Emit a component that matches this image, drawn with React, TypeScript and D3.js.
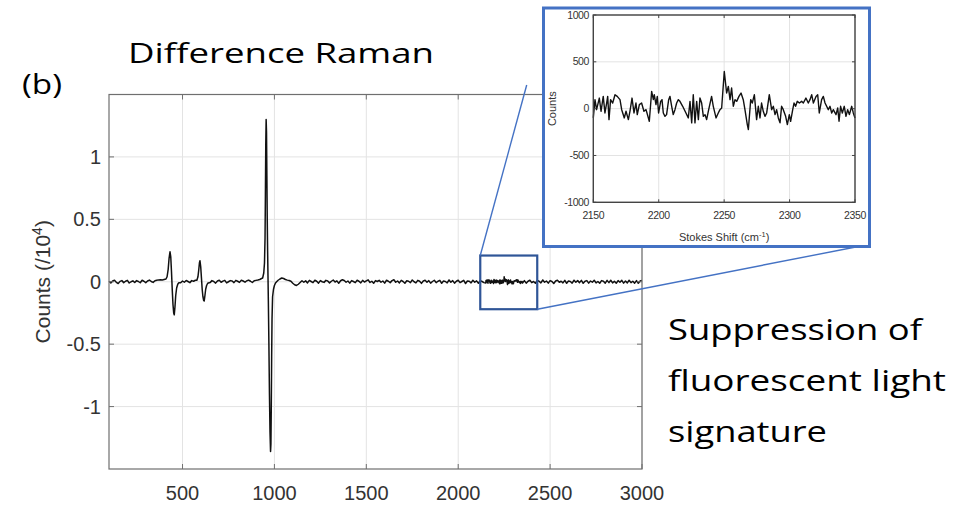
import React from 'react';
import * as d3 from 'd3';

const W = 961;
const H = 505;

// ---------- Main spectrum (Counts / 10^4 vs Stokes shift) ----------
const mainXTicks = [500, 1000, 1500, 2000, 2500, 3000];
const mainYTicks = [-1, -0.5, 0, 0.5, 1];
const mainYTickLabels = ['-1', '-0.5', '0', '0.5', '1'];

// baseline segment A: x = 100..380 step 10
const segAStart = 100;
const segA = [0.004, -0.009, 0.006, 0.012, -0.005, -0.014, 0.003, 0.009, -0.007, 0.004, 0.011, -0.01, 0.0, 0.007, -0.006, 0.009, 0.002, -0.008, 0.012, 0.004, -0.007, 0.006, 0.013, 0.002, -0.005, 0.008, 0.012, 0.015, 0.016];

const peak1: [number, number][] = [
  [390, 0.014], [400, 0.018], [410, 0.022], [416, 0.04], [422, 0.1], [427, 0.19], [432, 0.24], [436, 0.2],
  [440, 0.08], [444, -0.06], [448, -0.18], [452, -0.25], [455, -0.265], [459, -0.2], [463, -0.11],
  [468, -0.05], [474, -0.02], [480, -0.008],
];

// baseline segment B: x = 490..570 step 10
const segBStart = 490;
const segB = [-0.008, 0.006, -0.004, 0.01, 0.002, -0.007, 0.009, 0.004, 0.012];

const peak2: [number, number][] = [
  [578, 0.012], [584, 0.04], [588, 0.09], [592, 0.15], [595, 0.168], [599, 0.12], [603, 0.03], [607, -0.06],
  [611, -0.12], [615, -0.15], [618, -0.154], [622, -0.11], [626, -0.06], [631, -0.03], [637, -0.012], [645, -0.008],
];

// baseline segment C: x = 650..930 step 10
const segCStart = 650;
const segC = [-0.007, 0.009, 0.002, -0.011, 0.006, 0.012, -0.004, 0.005, 0.011, -0.009, 0.0, 0.009, 0.006, -0.007, 0.011, 0.004, -0.005, 0.012, 0.006, -0.003, 0.008, 0.013, 0.004, -0.006, 0.008, 0.011, 0.014, 0.018, 0.026];

const peak3: [number, number][] = [
  [936, 0.03], [942, 0.07], [946, 0.15], [949, 0.35], [951, 0.7], [953, 1.1], [955, 1.3], [957, 1.2],
  [959, 0.85], [961, 0.5], [963, 0.25], [965, 0.05], [967, -0.15], [970, -0.5], [973, -0.9], [976, -1.2],
  [979, -1.36], [981, -1.3], [983, -1.0], [985, -0.6], [987, -0.3], [990, -0.12], [995, -0.06], [1000, -0.03],
  [1006, -0.01], [1012, 0.0],
];

// baseline segment D: x = 1020..2140 step 10
const segDStart = 1020;
const segD = [
  0.012, 0.022, 0.03, 0.026, 0.018, 0.013, 0.01, 0.004, -0.012, -0.024, -0.03, -0.02, -0.006, 0.008, -0.004,
  0.007, -0.009, 0.011, 0.002, -0.007, 0.012, 0.004, -0.011, 0.009, 0.0,
  -0.005, 0.011, 0.006, -0.009, 0.004, 0.014, -0.002, 0.007, -0.012, 0.008,
  0.016, 0.01, -0.004, 0.006, -0.011, 0.009, 0.002, -0.007, 0.012, 0.004,
  -0.009, 0.011, -0.002, 0.007, 0.015, -0.006, 0.004, -0.012, 0.009, 0.002,
  0.011, -0.004, 0.006, -0.011, 0.012, 0.004, -0.007, 0.009, 0.016, -0.004,
  0.006, -0.009, 0.011, 0.002, -0.012, 0.008, 0.004, -0.007, 0.014, 0.0,
  -0.009, 0.011, 0.004, -0.013, 0.006, 0.012, -0.004, 0.009, -0.011, 0.002,
  0.012, -0.007, 0.004, 0.011, -0.012, 0.006, 0.002, -0.009, 0.014, -0.004,
  0.009, -0.011, 0.004, 0.012, -0.007, 0.002, 0.011, -0.014, 0.006, 0.004,
  -0.009, 0.012, -0.004, 0.007, -0.012, 0.009, 0.002, -0.007,
];

// baseline segment E: x = 2360..3000 step 10
const segEStart = 2360;
const segE = [
  0.009, -0.011, 0.004, 0.012, -0.007, 0.002, -0.012, 0.011, 0.004, -0.009,
  0.014, -0.004, 0.006, -0.011, 0.009, 0.002, -0.014, 0.006, 0.012, -0.004,
  0.004, -0.009, 0.011, -0.012, 0.006, 0.002, -0.011, 0.012, -0.004, 0.009,
  -0.007, 0.011, -0.012, 0.004, 0.009, -0.011, 0.006, -0.004, 0.012, -0.009,
  0.002, -0.012, 0.009, 0.004, -0.011, 0.011, -0.007, 0.012, -0.009, 0.004,
  -0.012, 0.009, -0.004, 0.011, -0.011, 0.006, -0.009, 0.012, -0.007, 0.004,
  -0.011, 0.009, -0.012, 0.006, 0.01,
];
const baseStep = 10;

// ---------- Inset (2150-2350 cm^-1, raw counts) ----------
const insetX = [
  2150, 2151.3, 2152.5, 2154.6, 2155.9, 2157.6, 2158.9, 2160.2, 2161, 2162, 2163.2, 2164.8, 2166.6, 2168.3, 2170.4,
  2171.7, 2173.7, 2175, 2176.8, 2178, 2179.6, 2181.1, 2182.6, 2183.6, 2185.2, 2186.9, 2188.7, 2190.3, 2192.8, 2194.6,
  2195.9, 2196.6, 2197.9, 2198.9, 2199.9, 2201.5, 2202.5, 2203.5, 2204.8, 2206, 2207.6, 2208.6, 2209.9, 2211.1, 2212.4,
  2213.7, 2215, 2216.2, 2218.3, 2220.8, 2222.6, 2223.9, 2225.2, 2226.4, 2227.7, 2229, 2230.3, 2231.5, 2232.8, 2234.1,
  2235.4, 2236.6, 2237.9, 2240.4, 2241.7, 2243.8, 2245.5, 2246.8, 2248.1, 2250.1, 2251.9, 2253.2, 2254.5, 2255.7, 2257,
  2258.3, 2259.6, 2261.3, 2262.9, 2264.6, 2265.9, 2267.7, 2268.5, 2270.3, 2271.5, 2273.1, 2274.8, 2276.1, 2277.4, 2278.6,
  2279.9, 2281.2, 2282.5, 2284.5, 2286.3, 2287.6, 2288.9, 2290.1, 2291.4, 2292.7, 2293.9, 2295.2, 2297, 2298.3, 2299.8,
  2300.8, 2302.4, 2303.4, 2304.6, 2305.9, 2307.5, 2309.2, 2310.5, 2312.5, 2314.3, 2315.6, 2316.9, 2318.2, 2320.2, 2321.5,
  2322.7, 2324.5, 2325.8, 2327.1, 2329.6, 2330.9, 2332.2, 2333.4, 2335.5, 2336.8, 2337.8, 2339, 2340.3, 2341.8, 2343.1,
  2344.4, 2345.7, 2347.5, 2348.7, 2350,
];
const insetY = [
  -99, 96, -11, 113, -28, 131, -46, 60, 131, -117, 96, 60, 149, 131, 96,
  -11, -99, -28, -117, -28, 113, -46, 60, -64, 43, 60, -28, -11, -135, 184,
  96, 149, 43, 131, -46, 78, 96, -46, -82, -64, 96, 131, 25, -64, -11,
  60, 96, 78, 25, -46, -99, 78, -152, 149, -152, 78, -117, 113, 60, -82,
  -64, -117, -28, 131, 25, -99, -46, -11, 7, 397, 167, 238, 96, 220, 25,
  96, 78, 131, 167, 96, -11, -170, -223, 96, 60, 149, -117, 25, -99, 60,
  -28, -82, -46, 149, -11, 25, -64, -11, -99, -152, 25, -11, -82, -170, -64,
  -135, -11, 60, 25, 78, 60, 78, 60, 113, 60, 96, 149, 60, 131, 149,
  -46, 96, 131, 60, -11, 25, -46, -11, -64, 7, -135, 25, -46, 25, -82,
  -11, -64, 25, -46, -99,
];
const insetXTicks = [2150, 2200, 2250, 2300, 2350];
const insetYTicks = [-1000, -500, 0, 500, 1000];

// zoom rectangle in data coordinates of the main plot
const zoomBox = { x0: 2120, x1: 2430, y0: -0.22, y1: 0.21 };

const seg = (start: number, vals: number[]): [number, number][] =>
  vals.map((v, i) => [start + i * baseStep, v] as [number, number]);

export default function App() {
  // main axes
  const x = d3.scaleLinear().domain([100, 3000]).range([109, 642]);
  const y = d3.scaleLinear().domain([-1.5, 1.5]).range([469, 94.5]);
  const insetScaled: [number, number][] = insetX.map((v, i) => [v, insetY[i] / 10000]);
  const mainData: [number, number][] = [
    ...seg(segAStart, segA),
    ...peak1,
    ...seg(segBStart, segB),
    ...peak2,
    ...seg(segCStart, segC),
    ...peak3,
    ...seg(segDStart, segD),
    ...insetScaled,
    ...seg(segEStart, segE),
  ];
  const mainLine = d3.line<[number, number]>().x((d) => x(d[0])).y((d) => y(d[1]));

  const [mx0, mx1] = x.range();
  const [my0, my1] = [y.range()[1], y.range()[0]]; // top, bottom

  // inset axes
  const ix = d3.scaleLinear().domain([2150, 2350]).range([593.3, 855]);
  const iy = d3.scaleLinear().domain([-1000, 1000]).range([202.3, 15]);
  const insetLine = d3.line<number>().x((_, i) => ix(insetX[i])).y((d) => iy(d));
  const [ix0, ix1] = ix.range();
  const [iyB, iyT] = iy.range();

  const axisCol = '#6f6f6f';
  const gridCol = '#e3e3e3';
  const blue = '#4472C4';
  const darkBlue = '#2F5597';
  const tickFont = '"Liberation Sans", Arial, sans-serif';
  const textFont = '"Open Sans", "Noto Sans", sans-serif';

  return (
    <svg width={W} height={H} style={{ position: 'absolute', left: 0, top: 0, background: '#fff' }}>
      <rect x={0} y={0} width={W} height={H} fill="#fff" />
      {/* Title and labels */}
      <text x={128} y={63} fontFamily={textFont} fontWeight={400} fontSize={28} fill="#000" textLength={306} lengthAdjust="spacingAndGlyphs">
        Difference Raman
      </text>
      <text x={22} y={94} fontFamily={textFont} fontWeight={400} fontSize={28} fill="#000" textLength={40} lengthAdjust="spacingAndGlyphs">
        (b)
      </text>
      <text x={668} y={340} fontFamily={textFont} fontWeight={400} fontSize={30} fill="#000" textLength={254} lengthAdjust="spacingAndGlyphs">
        Suppression of
      </text>
      <text x={668} y={391} fontFamily={textFont} fontWeight={400} fontSize={30} fill="#000" textLength={278} lengthAdjust="spacingAndGlyphs">
        fluorescent light
      </text>
      <text x={668} y={442} fontFamily={textFont} fontWeight={400} fontSize={30} fill="#000" textLength={159} lengthAdjust="spacingAndGlyphs">
        signature
      </text>

      {/* Main grid */}
      <g>
        {mainXTicks.map((t) => (
          <line key={'gx' + t} x1={x(t)} x2={x(t)} y1={my0} y2={my1} stroke={gridCol} strokeWidth={1} />
        ))}
        {mainYTicks.map((t) => (
          <line key={'gy' + t} x1={mx0} x2={mx1} y1={y(t)} y2={y(t)} stroke={gridCol} strokeWidth={1} />
        ))}
      </g>
      {/* Main line */}
      <path d={mainLine(mainData) || ''} fill="none" stroke="#111" strokeWidth={1.5} strokeLinejoin="round" />
      {/* Main box and ticks */}
      <rect x={mx0} y={my0} width={mx1 - mx0} height={my1 - my0} fill="none" stroke={axisCol} strokeWidth={1.2} />
      {mainXTicks.map((t) => (
        <g key={'tx' + t}>
          <line x1={x(t)} x2={x(t)} y1={my1} y2={my1 - 5} stroke={axisCol} />
          <line x1={x(t)} x2={x(t)} y1={my0} y2={my0 + 5} stroke={axisCol} />
          <text x={x(t)} y={500} textAnchor="middle" fontFamily={tickFont} fontSize={20} fill="#333">
            {t}
          </text>
        </g>
      ))}
      {mainYTicks.map((t, i) => (
        <g key={'ty' + t}>
          <line x1={mx0} x2={mx0 + 5} y1={y(t)} y2={y(t)} stroke={axisCol} />
          <line x1={mx1} x2={mx1 - 5} y1={y(t)} y2={y(t)} stroke={axisCol} />
          <text x={101} y={y(t) + 7} textAnchor="end" fontFamily={tickFont} fontSize={20} fill="#333">
            {mainYTickLabels[i]}
          </text>
        </g>
      ))}
      <text
        transform={`translate(50, ${(my0 + my1) / 2}) rotate(-90)`}
        textAnchor="middle"
        fontFamily={tickFont}
        fontSize={21}
        fill="#333"
      >
        Counts (/10<tspan dy={-8} fontSize={14}>4</tspan><tspan dy={8}>)</tspan>
      </text>

      {/* Zoom rectangle and connectors */}
      <rect
        x={x(zoomBox.x0)}
        y={y(zoomBox.y1)}
        width={x(zoomBox.x1) - x(zoomBox.x0)}
        height={y(zoomBox.y0) - y(zoomBox.y1)}
        fill="none"
        stroke={darkBlue}
        strokeWidth={2.2}
      />
      <line x1={x(zoomBox.x0)} y1={y(zoomBox.y1)} x2={526.7} y2={85} stroke={blue} strokeWidth={1.4} />
      <line x1={x(zoomBox.x1)} y1={y(zoomBox.y0)} x2={866} y2={245} stroke={blue} strokeWidth={1.4} />

      {/* Inset */}
      <rect x={543.5} y={8} width={326} height={238.5} fill="#fff" stroke={blue} strokeWidth={3} />
      {insetXTicks.map((t) => (
        <line key={'igx' + t} x1={ix(t)} x2={ix(t)} y1={iyT} y2={iyB} stroke={gridCol} strokeWidth={1} />
      ))}
      {insetYTicks.map((t) => (
        <line key={'igy' + t} x1={ix0} x2={ix1} y1={iy(t)} y2={iy(t)} stroke={gridCol} strokeWidth={1} />
      ))}
      <path d={insetLine(insetY) || ''} fill="none" stroke="#111" strokeWidth={1.4} strokeLinejoin="round" />
      <rect x={ix0} y={iyT} width={ix1 - ix0} height={iyB - iyT} fill="none" stroke="#444" strokeWidth={1.4} />
      {insetXTicks.map((t) => (
        <g key={'itx' + t}>
          <line x1={ix(t)} x2={ix(t)} y1={iyB} y2={iyB - 3} stroke="#444" />
          <line x1={ix(t)} x2={ix(t)} y1={iyT} y2={iyT + 3} stroke="#444" />
          <text x={ix(t)} y={219} textAnchor="middle" fontFamily={tickFont} fontSize={10.5} fill="#333" letterSpacing={-0.4}>
            {t}
          </text>
        </g>
      ))}
      {insetYTicks.map((t) => (
        <g key={'ity' + t}>
          <line x1={ix0} x2={ix0 + 3} y1={iy(t)} y2={iy(t)} stroke="#444" />
          <line x1={ix1} x2={ix1 - 3} y1={iy(t)} y2={iy(t)} stroke="#444" />
          <text x={589} y={iy(t) + 3.5} textAnchor="end" fontFamily={tickFont} fontSize={10.5} fill="#333" letterSpacing={-0.4}>
            {t}
          </text>
        </g>
      ))}
      <text
        transform={`translate(556, ${(iyT + iyB) / 2}) rotate(-90)`}
        textAnchor="middle"
        fontFamily={tickFont}
        fontSize={11}
        fill="#333"
      >
        Counts
      </text>
      <text x={(ix0 + ix1) / 2} y={241} textAnchor="middle" fontFamily={tickFont} fontSize={11} fill="#333">
        Stokes Shift (cm<tspan dy={-4} fontSize={7.5}>-1</tspan><tspan dy={4}>)</tspan>
      </text>
    </svg>
  );
}
